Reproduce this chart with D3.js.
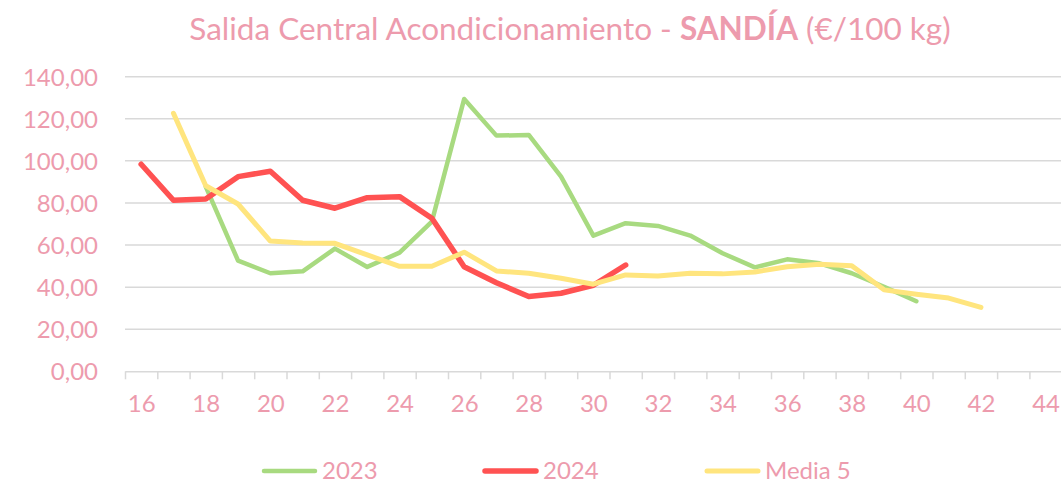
<!DOCTYPE html>
<html>
<head>
<meta charset="utf-8">
<script src="https://cdn.jsdelivr.net/npm/d3@7"></script>
<style>
  body { margin: 0; background: #fff; }
  text { font-family: Lato, "Open Sans", sans-serif; fill: #ED9BAD; }
</style>
</head>
<body>
<svg id="chart" width="1061" height="483"></svg>
<script>
/************************* Data *************************/
const weeks = d3.range(16, 45);          // categories 16..44
const weekLabels = d3.range(16, 45, 2);  // labelled every 2nd week
const yTicks = d3.range(0, 141, 20);

const weeks2023 = d3.range(18, 41);
const values2023 = [87.8, 52.6, 46.6, 47.5, 58.3, 49.6, 56.4, 71.1, 129.4, 112.0, 112.3,
  92.5, 64.5, 70.4, 69.1, 64.5, 56.1, 49.4, 53.2, 51.3, 46.6, 40.2, 33.3];

const weeks2024 = d3.range(16, 32);
const values2024 = [98.4, 81.3, 81.9, 92.5, 95.1, 81.3, 77.5, 82.5, 83.0, 72.7, 49.7,
  42.1, 35.5, 37.1, 40.9, 50.5];

const weeksMedia = d3.range(17, 43);
const valuesMedia = [122.6, 88.2, 79.5, 61.9, 61.0, 60.8, 55.3, 49.9, 49.9, 56.6, 47.7,
  46.6, 44.2, 41.4, 45.8, 45.3, 46.6, 46.3, 47.2, 49.7, 50.9, 50.2, 38.7, 36.6, 34.8, 30.4];

const series = [
  {name: "2023",    weeks: weeks2023,  values: values2023,  color: "#A8DA80", width: 4.5},
  {name: "2024",    weeks: weeks2024,  values: values2024,  color: "#FF5252", width: 5.5},
  {name: "Media 5", weeks: weeksMedia, values: valuesMedia, color: "#FFE57E", width: 5}
];

/************************* Layout *************************/
const svg = d3.select("#chart");
const plot = {left: 125, right: 125 + weeks.length * 32.3, top: 76.7, bottom: 371.3};
const gridColor = "#D9D9D9";

const x = d3.scaleLinear()
  .domain([weeks[0] - 0.5, weeks[weeks.length - 1] + 0.5])
  .range([plot.left, plot.right]);
const y = d3.scaleLinear().domain([0, 140]).range([plot.bottom, plot.top]);

// Title
svg.append("text")
  .attr("x", 570).attr("y", 40)
  .attr("text-anchor", "middle")
  .style("font-size", "31.5px")
  .call(t => {
    t.append("tspan").text("Salida Central Acondicionamiento - ");
    t.append("tspan").style("font-weight", "bold").text("SANDÍA");
    t.append("tspan").text(" (€/100 kg)");
  });

// Gridlines
svg.append("g")
  .selectAll("line")
  .data(yTicks.filter(d => d > 0))
  .join("line")
    .attr("x1", plot.left).attr("x2", 1061)
    .attr("y1", d => y(d)).attr("y2", d => y(d))
    .attr("stroke", gridColor).attr("stroke-width", 1.5);

// Y axis labels
const yAxis = svg.append("g")
  .attr("transform", `translate(${plot.left - 27},0)`)
  .call(d3.axisLeft(y).tickValues(yTicks).tickSize(0).tickPadding(0)
    .tickFormat(d => d3.format(".2f")(d).replace(".", ",")));
yAxis.select(".domain").remove();
yAxis.selectAll("text").style("font-size", "24px").attr("fill", null).attr("dy", "0.35em");

// X axis: boundary ticks + line
const xTicks = svg.append("g")
  .attr("transform", `translate(0,${plot.bottom})`)
  .call(d3.axisBottom(x).tickValues(d3.range(weeks[0] - 0.5, weeks[weeks.length - 1] + 1, 1))
    .tickSize(8).tickSizeOuter(0).tickFormat(""));
xTicks.select(".domain").attr("stroke", gridColor).attr("stroke-width", 1.5);
xTicks.selectAll(".tick line").attr("stroke", gridColor).attr("stroke-width", 1.5);

// X axis labels
const xLabels = svg.append("g")
  .attr("transform", `translate(0,${plot.bottom})`)
  .call(d3.axisBottom(x).tickValues(weekLabels).tickSize(0).tickPadding(24));
xLabels.select(".domain").remove();
xLabels.selectAll("text").style("font-size", "24px").attr("fill", null);

// Lines
const line = d3.line().x(d => x(d[0])).y(d => y(d[1]));
svg.append("g")
  .selectAll("path")
  .data(series)
  .join("path")
    .attr("d", s => line(d3.zip(s.weeks, s.values)))
    .attr("fill", "none")
    .attr("stroke", s => s.color)
    .attr("stroke-width", s => s.width)
    .attr("stroke-linejoin", "round")
    .attr("stroke-linecap", "round");

// Legend
const legendX = [262, 483, 705];
const legend = svg.append("g")
  .selectAll("g")
  .data(series)
  .join("g")
    .attr("transform", (s, i) => `translate(${legendX[i]},471)`);
legend.append("line")
  .attr("x1", 2).attr("x2", 53)
  .attr("stroke", s => s.color)
  .attr("stroke-width", s => s.width)
  .attr("stroke-linecap", "round");
legend.append("text")
  .attr("x", 60).attr("dy", "0.35em")
  .style("font-size", "24px")
  .text(s => s.name);
</script>
</body>
</html>
